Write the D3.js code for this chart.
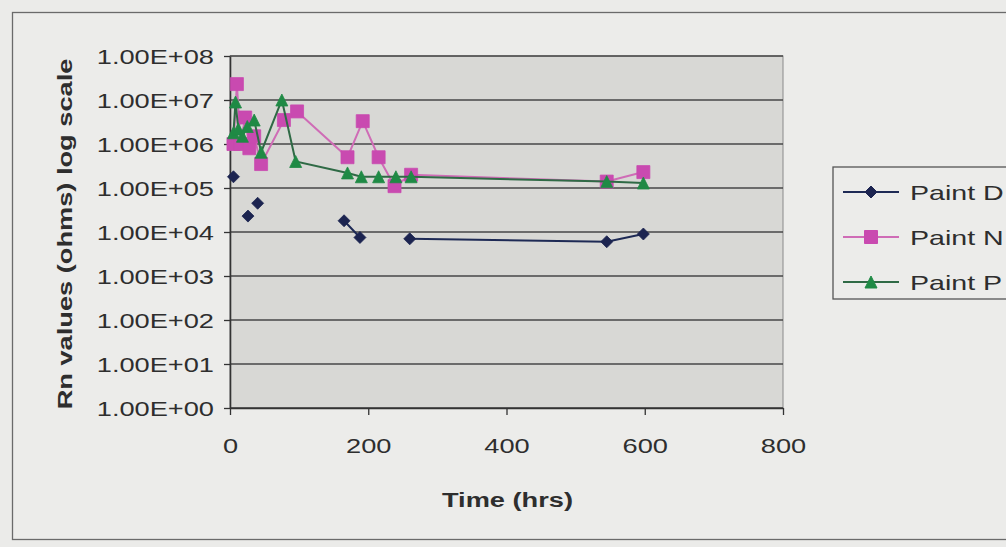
<!DOCTYPE html>
<html>
<head>
<meta charset="utf-8">
<script src="https://cdn.jsdelivr.net/npm/d3@7"></script>
<style>
  html, body { margin: 0; padding: 0; background: #ebebe9; }
  svg { display: block; }
  text { font-family: "Liberation Sans", Arial, sans-serif; fill: #2e2e2e; }
</style>
</head>
<body>
<svg id="chart" width="1006" height="547"></svg>
<script>
// Resistance (Rn) of three paints against exposure time
const seriesNames = ["Paint D", "Paint N", "Paint P"];

// Paint D: null marks a missing reading (line breaks there)
const timeD  = [5, 15, 26, 33, 40, 100, 165, 188, 220, 260, 545, 598];
const valueD = [1.8e5, null, 2.3e4, null, 4.5e4, null, 1.8e4, 7.5e3, null, 7e3, 6e3, 9e3];

const timeN  = [5, 10, 15, 22, 28, 35, 45, 78, 97, 170, 192, 215, 238, 262, 545, 598];
const valueN = [1.0e6, 2.3e7, 1.0e6, 4.0e6, 8.0e5, 1.5e6, 3.5e5, 3.5e6, 5.5e6, 5.0e5, 3.3e6, 5.0e5, 1.1e5, 2.0e5, 1.4e5, 2.3e5];

const timeP  = [5, 8, 12, 18, 25, 35, 45, 75, 95, 170, 190, 215, 240, 262, 545, 598];
const valueP = [1.8e6, 9.0e6, 2.2e6, 1.5e6, 2.5e6, 3.5e6, 6.5e5, 1.0e7, 4.0e5, 2.2e5, 1.8e5, 1.8e5, 1.8e5, 1.8e5, 1.4e5, 1.3e5];

const xTicks = [0, 200, 400, 600, 800];
const yTicks = [1e0, 1e1, 1e2, 1e3, 1e4, 1e5, 1e6, 1e7, 1e8];

const svg = d3.select("#chart");

// the printed typeface is noticeably wide: stretch glyphs horizontally
const WIDEN = 1.36;
function widen(sel) {
  sel.each(function () {
    const w = this.getComputedTextLength();
    d3.select(this).attr("textLength", w * WIDEN).attr("lengthAdjust", "spacingAndGlyphs");
  });
}

// outer chart frame
svg.append("rect")
  .attr("x", 12.5).attr("y", 12.5).attr("width", 1010).attr("height", 527)
  .attr("fill", "#ececea").attr("stroke", "#6a6a6a").attr("stroke-width", 1.3);

const plot = { left: 230, top: 56, right: 783, bottom: 408 };

const x = d3.scaleLinear().domain([0, 800]).range([plot.left, plot.right]);
const y = d3.scaleLog().domain([1, 1e8]).range([plot.bottom, plot.top]);

// plot area
svg.append("rect")
  .attr("x", plot.left).attr("y", plot.top)
  .attr("width", plot.right - plot.left).attr("height", plot.bottom - plot.top)
  .attr("fill", "#d8d8d5").attr("stroke", "#8a8a8a").attr("stroke-width", 1);

// decade gridlines
svg.append("g").selectAll("line").data(yTicks).join("line")
  .attr("x1", plot.left).attr("x2", plot.right)
  .attr("y1", d => y(d)).attr("y2", d => y(d))
  .attr("stroke", "#474747").attr("stroke-width", 1.5);

// y axis
const fmtE = d => {
  const e = Math.round(Math.log10(d));
  return "1.00E+" + String(e).padStart(2, "0");
};
const yAxis = svg.append("g")
  .attr("transform", `translate(${plot.left},0)`)
  .call(d3.axisLeft(y).tickValues(yTicks).tickFormat(fmtE).tickSizeInner(6).tickSizeOuter(0).tickPadding(0));
yAxis.select(".domain").attr("stroke", "#333").attr("stroke-width", 1.6);
yAxis.selectAll(".tick line").attr("stroke", "#333").attr("stroke-width", 1.3);
yAxis.selectAll(".tick text")
  .attr("font-size", 20).attr("font-family", "Liberation Sans, Arial, sans-serif").attr("fill", "#2e2e2e")
  .attr("x", -16).attr("dy", "0.36em")
  .call(widen);

// x axis
const xAxis = svg.append("g")
  .attr("transform", `translate(0,${plot.bottom})`)
  .call(d3.axisBottom(x).tickValues(xTicks).tickFormat(d3.format("d")).tickSizeInner(7).tickSizeOuter(0).tickPadding(24));
xAxis.select(".domain").attr("stroke", "#333").attr("stroke-width", 1.6);
xAxis.selectAll(".tick line").attr("stroke", "#333").attr("stroke-width", 1.3);
xAxis.selectAll(".tick text")
  .attr("font-size", 20).attr("font-family", "Liberation Sans, Arial, sans-serif").attr("fill", "#333")
  .call(widen);

// axis titles
svg.append("text")
  .attr("x", (plot.left + plot.right) / 2 + 1).attr("y", 507)
  .attr("text-anchor", "middle").attr("font-size", 20).attr("font-weight", "bold")
  .text("Time (hrs)")
  .call(widen);

svg.append("text")
  .attr("transform", `translate(72,${(plot.top + plot.bottom) / 2 + 2}) rotate(-90)`)
  .attr("text-anchor", "middle").attr("font-size", 20).attr("font-weight", "bold")
  .text("Rn values (ohms) log scale")
  .call(widen);

// series
const series = [
  { name: seriesNames[0], t: timeD, v: valueD, line: "#1e2a55", fill: "#1c2450", marker: "diamond", size: 12 },
  { name: seriesNames[1], t: timeN, v: valueN, line: "#cf6cb6", fill: "#c94ab0", marker: "square", size: 13 },
  { name: seriesNames[2], t: timeP, v: valueP, line: "#2f6a45", fill: "#1f8a45", marker: "triangle", size: 12 }
];

const markerPath = (type, s) => {
  if (type === "diamond") return `M0,${-s / 2}L${s / 2},0L0,${s / 2}L${-s / 2},0Z`;
  if (type === "square") return `M${-s / 2},${-s / 2}h${s}v${s}h${-s}Z`;
  return `M0,${-s / 2}L${s / 2},${s / 2}L${-s / 2},${s / 2}Z`;
};

const line = d3.line()
  .defined(d => d.v != null)
  .x(d => x(d.t)).y(d => y(d.v));

series.forEach(s => {
  const pts = s.t.map((t, i) => ({ t, v: s.v[i] }));
  const g = svg.append("g");
  g.append("path").datum(pts)
    .attr("d", line).attr("fill", "none")
    .attr("stroke", s.line).attr("stroke-width", 2);
  g.selectAll("path.mark").data(pts.filter(d => d.v != null)).join("path")
    .attr("class", "mark")
    .attr("transform", d => `translate(${x(d.t)},${y(d.v)})`)
    .attr("d", markerPath(s.marker, s.size))
    .attr("fill", s.fill).attr("stroke", s.fill).attr("stroke-width", 0.8);
});

// legend
const legend = svg.append("g").attr("transform", "translate(833,167)");
legend.append("rect")
  .attr("width", 200).attr("height", 132)
  .attr("fill", "#ececea").attr("stroke", "#555").attr("stroke-width", 1.3);
series.forEach((s, i) => {
  const ly = 25 + i * 45;
  const row = legend.append("g").attr("transform", `translate(0,${ly})`);
  row.append("line").attr("x1", 10).attr("x2", 66).attr("y1", 0).attr("y2", 0)
    .attr("stroke", s.line).attr("stroke-width", 2);
  row.append("path").attr("transform", "translate(38,0)")
    .attr("d", markerPath(s.marker, s.size))
    .attr("fill", s.fill).attr("stroke", s.fill);
  row.append("text").attr("x", 77).attr("y", 8)
    .attr("font-size", 21).text(s.name)
    .call(widen);
});
</script>
</body>
</html>
